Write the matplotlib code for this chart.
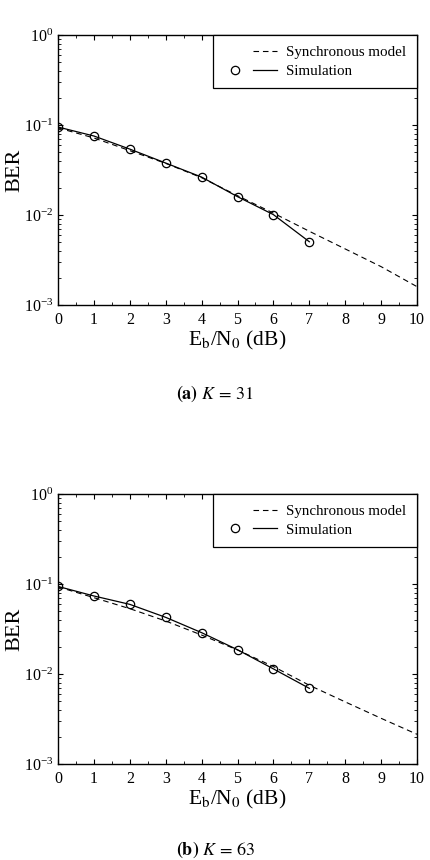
import matplotlib
matplotlib.use("Agg")
import matplotlib.pyplot as plt
from matplotlib.lines import Line2D
from matplotlib.legend_handler import HandlerTuple
from matplotlib.ticker import LogLocator, MultipleLocator, NullFormatter

plt.rcParams["font.family"] = ["Liberation Serif", "DejaVu Serif"]
plt.rcParams["mathtext.fontset"] = "stix"

# Eb/N0 (dB) grids
model_snr = [0, 1, 2, 3, 4, 5, 6, 7, 8, 9, 10]
sim_snr = [0, 1, 2, 3, 4, 5, 6, 7]

# (a) K = 31
model_k31 = [0.093, 0.0718, 0.0519, 0.0375, 0.026, 0.0164, 0.0105, 0.0066, 0.0042, 0.00267, 0.0016]
sim_k31 = [0.095, 0.0755, 0.054, 0.0378, 0.0264, 0.016, 0.0101, 0.00505]

# (b) K = 63
model_k63 = [0.093, 0.0705, 0.0532, 0.0388, 0.0271, 0.0185, 0.0121, 0.0075, 0.0049, 0.00322, 0.00214]
sim_k63 = [0.094, 0.0736, 0.0594, 0.0426, 0.0288, 0.0186, 0.0114, 0.00693]

panels = [
    (model_k31, sim_k31, r"$\mathbf{(a)}\ K\,=\,31$"),
    (model_k63, sim_k63, r"$\mathbf{(b)}\ K\,=\,63$"),
]
legend_labels = ["Synchronous model", "Simulation"]

fig = plt.figure(figsize=(4.3, 8.6), dpi=100)
axes_pos = [(0.1349, 0.6453, 0.8349, 0.314), (0.1349, 0.1116, 0.8349, 0.314)]
caption_y = [1 - 394 / 860, 1 - 850 / 860]

for (model, sim, caption), pos, cy in zip(panels, axes_pos, caption_y):
    ax = fig.add_axes(pos)
    ax.plot(model_snr, model, color="k", ls="--", dashes=(5, 3.5), lw=0.8)
    ax.plot(sim_snr, sim, color="k", lw=0.9, marker="o", ms=6,
            mfc="none", mec="k", mew=0.9)
    ax.set_yscale("log")
    ax.set_xlim(0, 10)
    ax.set_ylim(1e-3, 1)
    ax.xaxis.set_major_locator(MultipleLocator(1))
    ax.xaxis.set_minor_locator(MultipleLocator(0.5))
    ax.yaxis.set_major_locator(LogLocator(base=10, numticks=10))
    ax.yaxis.set_minor_locator(LogLocator(base=10, subs=range(2, 10), numticks=10))
    ax.yaxis.set_minor_formatter(NullFormatter())
    ax.tick_params(which="both", direction="in", top=True, right=True,
                   labelsize=11.5)
    ax.tick_params(axis="x", pad=5)
    ax.tick_params(which="major", length=3.5, width=0.8)
    ax.tick_params(which="minor", length=2, width=0.6)
    for sp in ax.spines.values():
        sp.set_linewidth(1.0)
    ax.set_xlabel(r"E$_\mathrm{b}$/N$_0$ (dB)", fontsize=15.5, labelpad=1)
    ax.set_ylabel("BER", fontsize=16, va="center")
    ax.yaxis.set_label_coords(-0.12, 0.5)

    blank = Line2D([], [], ls="none")
    mk = Line2D([], [], marker="o", ls="none", mfc="none", mec="k", ms=6, mew=0.9)
    dash = Line2D([], [], color="k", ls="--", dashes=(5, 3.5), lw=0.8)
    solid = Line2D([], [], color="k", lw=0.9)
    leg = ax.legend([(blank, dash), (mk, solid)], legend_labels,
                    handler_map={tuple: HandlerTuple(ndivide=2, pad=0.4)},
                    handlelength=3.6, handletextpad=0.6, loc="upper right",
                    borderaxespad=0, fancybox=False, framealpha=1,
                    edgecolor="k", fontsize=10.8, borderpad=0.7,
                    labelspacing=0.35)
    leg.get_frame().set_linewidth(0.9)

    fig.text(0.5, cy, caption, ha="center", va="center", fontsize=13)

fig.savefig("out.png", dpi=100)
